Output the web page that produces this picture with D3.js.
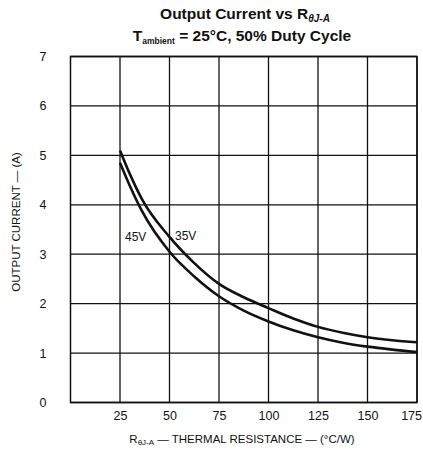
<!DOCTYPE html>
<html><head><meta charset="utf-8">
<script src="https://cdn.jsdelivr.net/npm/d3@7"></script>
<style>body{margin:0;background:#fff}svg{display:block}</style>
</head><body>
<svg id="c" width="423" height="457"></svg>
<script>
const xTicks = [25, 50, 75, 100, 125, 150, 175];
const yTicks = [0, 1, 2, 3, 4, 5, 6, 7];
const rTheta = [25, 30, 36, 50, 62.5, 75, 87.5, 100, 112.5, 125, 137.5, 150, 162.5, 175];
const i35V = [5.1, 4.62, 4.12, 3.35, 2.82, 2.4, 2.13, 1.91, 1.7, 1.53, 1.41, 1.32, 1.26, 1.22];
const i45V = [4.85, 4.38, 3.88, 3.05, 2.55, 2.15, 1.86, 1.64, 1.46, 1.32, 1.21, 1.13, 1.07, 1.02];
const seriesNames = ["35V", "45V"];

const svg = d3.select("#c");
const x = d3.scaleLinear().domain([0, 175]).range([70.5, 417]);
const y = d3.scaleLinear().domain([0, 7]).range([402.5, 56.5]);
const ink = "#111";
const lf = "Liberation Sans, Arial, sans-serif";

// grid
const g = svg.append("g");
g.selectAll(".vg").data(xTicks).enter().append("line")
  .attr("x1", d => x(d)).attr("x2", d => x(d)).attr("y1", y(0)).attr("y2", y(7))
  .attr("stroke", ink).attr("stroke-width", 1.3);
g.selectAll(".hg").data(yTicks).enter().append("line")
  .attr("x1", x(0)).attr("x2", x(175)).attr("y1", d => y(d)).attr("y2", d => y(d))
  .attr("stroke", ink).attr("stroke-width", 1.3);
g.append("rect").attr("x", x(0)).attr("y", y(7)).attr("width", x(175) - x(0)).attr("height", y(0) - y(7))
  .attr("fill", "none").attr("stroke", ink).attr("stroke-width", 1.5);

// axes labels via d3 axes
const xAxis = d3.axisBottom(x).tickValues(xTicks).tickFormat(d3.format("d")).tickSize(0).tickPadding(9);
const xa = svg.append("g").attr("transform", `translate(0,${y(0)})`).call(xAxis);
xa.select(".domain").remove();
xa.selectAll("text").attr("font-family", lf).attr("font-size", 12.5).attr("fill", ink);
xa.selectAll(".tick").filter(d => d === 175).select("text").attr("text-anchor", "end").attr("dx", 4.5);

const yAxis = d3.axisLeft(y).tickValues(yTicks).tickFormat(d3.format("d")).tickSize(0).tickPadding(24);
const ya = svg.append("g").attr("transform", `translate(${x(0)},0)`).call(yAxis);
ya.select(".domain").remove();
ya.selectAll("text").attr("font-family", lf).attr("font-size", 12.5).attr("fill", ink);

// curves
const line = d3.line().x((d, i) => x(rTheta[i])).y(d => y(d)).curve(d3.curveMonotoneX);
[i35V, i45V].forEach(s => {
  svg.append("path").attr("d", line(s)).attr("fill", "none").attr("stroke", ink).attr("stroke-width", 2.6);
});

svg.append("text").attr("x", 125).attr("y", 241).attr("font-family", lf).attr("font-size", 12).attr("fill", ink).text(seriesNames[1]);
svg.append("text").attr("x", 175).attr("y", 240).attr("font-family", lf).attr("font-size", 12).attr("fill", ink).text(seriesNames[0]);

// title
const t1 = svg.append("text").attr("x", 245).attr("y", 19).attr("text-anchor", "middle")
  .attr("font-family", lf).attr("font-weight", "bold").attr("font-size", 15.5).attr("fill", ink);
t1.append("tspan").text("Output Current vs R");
t1.append("tspan").attr("font-size", 10).attr("font-style", "italic").attr("dy", 3).text("θJ-A");
const t2 = svg.append("text").attr("x", 242).attr("y", 41).attr("text-anchor", "middle")
  .attr("font-family", lf).attr("font-weight", "bold").attr("font-size", 15.5).attr("fill", ink);
t2.append("tspan").text("T");
t2.append("tspan").attr("font-size", 8.5).attr("dy", 3).text("ambient");
t2.append("tspan").attr("dy", -3).text(" = 25°C, 50% Duty Cycle");

// axis titles
const xt = svg.append("text").attr("x", 242).attr("y", 443).attr("text-anchor", "middle")
  .attr("font-family", lf).attr("font-size", 11.5).attr("fill", ink);
xt.append("tspan").text("R");
xt.append("tspan").attr("font-size", 8).attr("dy", 2).text("θJ-A");
xt.append("tspan").attr("dy", -2).text(" — THERMAL RESISTANCE — (°C/W)");

svg.append("text").attr("transform", "translate(20,222) rotate(-90)").attr("text-anchor", "middle")
  .attr("font-family", lf).attr("font-size", 11.5).attr("fill", ink).text("OUTPUT CURRENT — (A)");
</script>
</body></html>
